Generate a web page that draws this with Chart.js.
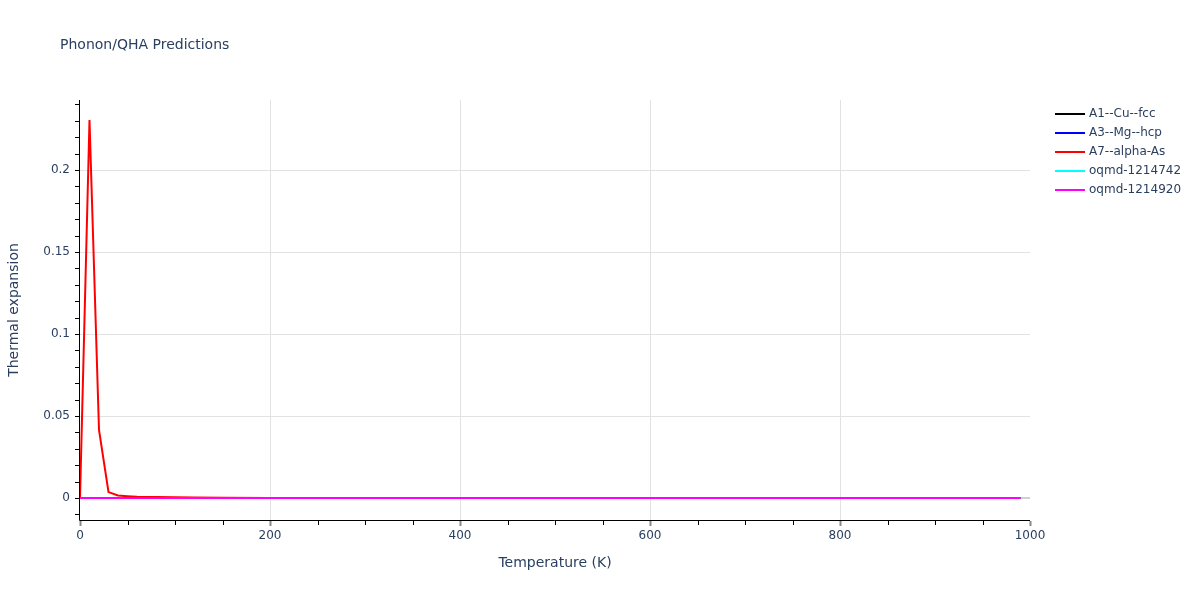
<!DOCTYPE html>
<html lang="en">
<head>
  <meta charset="UTF-8">
  <title>Phonon/QHA Predictions</title>
  <script src="https://cdn.jsdelivr.net/npm/chart.js"></script>
  <style>
    html, body { margin: 0; padding: 0; background: #fff; }
    #wrap { width: 1200px; height: 600px; }
  </style>
</head>
<body>
  <div id="wrap"><canvas id="qha" width="1200" height="600"></canvas></div>

  <script>
    // temperatures (K) shared by all series
    const temps = [0, 10, 20, 30, 40, 50, 60, 80, 100, 120, 150, 200, 300, 400, 500, 600, 700, 800, 900, 990];

    // thermal expansion per structure
    const cuFcc   = [0, 0.000002, 0.000006, 0.000010, 0.000012, 0.000013, 0.000014, 0.000015, 0.000015, 0.000016, 0.000016, 0.000017, 0.000017, 0.000018, 0.000018, 0.000019, 0.000019, 0.000020, 0.000020, 0.000021];
    const mgHcp   = [0, 0.000003, 0.000008, 0.000014, 0.000017, 0.000019, 0.000021, 0.000022, 0.000023, 0.000024, 0.000025, 0.000026, 0.000027, 0.000028, 0.000029, 0.000030, 0.000031, 0.000032, 0.000033, 0.000034];
    const alphaAs = [0, 0.2305, 0.0415, 0.0036, 0.0015, 0.0011, 0.0008, 0.0006, 0.0004, 0.0003, 0.0001, 0.00005, 0.00003, 0.00003, 0.00002, 0.00002, 0.00002, 0.00002, 0.00002, 0.00002];
    const oq742   = [0, 0.000004, 0.000009, 0.000013, 0.000016, 0.000018, 0.000019, 0.000021, 0.000022, 0.000023, 0.000024, 0.000025, 0.000026, 0.000027, 0.000028, 0.000029, 0.000030, 0.000031, 0.000032, 0.000033];
    const oq920   = [0, 0.000003, 0.000007, 0.000011, 0.000014, 0.000016, 0.000017, 0.000019, 0.000020, 0.000021, 0.000022, 0.000023, 0.000024, 0.000025, 0.000026, 0.000027, 0.000028, 0.000029, 0.000030, 0.000031];

    const seriesNames  = ['A1--Cu--fcc', 'A3--Mg--hcp', 'A7--alpha-As', 'oqmd-1214742', 'oqmd-1214920'];
    const seriesValues = [cuFcc, mgHcp, alphaAs, oq742, oq920];
    const seriesColors = ['#000000', '#0000ff', '#ff0000', '#00ffff', '#ff00ff'];

    const yTicks = [0, 0.05, 0.1, 0.15, 0.2];
    const xTicks = [0, 200, 400, 600, 800, 1000];

    const fontFam = '"DejaVu Sans", verdana, arial, sans-serif';
    const ink = '#2a3f5f';

    function pts(vals) {
      return temps.map((t, i) => ({ x: t, y: vals[i] }));
    }

    // title, legend and minor ticks drawn the plotly way
    const decor = {
      id: 'decor',
      afterDraw(chart) {
        const ctx = chart.ctx;
        const xs = chart.scales.x, ys = chart.scales.y;
        const area = chart.chartArea;
        ctx.save();

        // axis lines
        ctx.strokeStyle = '#000';
        ctx.lineWidth = 1;
        ctx.beginPath();
        ctx.moveTo(area.left - 0.5, area.top);
        ctx.lineTo(area.left - 0.5, area.bottom + 0.5);
        ctx.lineTo(area.right, area.bottom + 0.5);
        ctx.stroke();

        // x ticks every 50
        for (let v = 0; v <= 1000; v += 50) {
          const px = Math.round(xs.getPixelForValue(v)) + 0.5;
          const major = v % 200 === 0;
          ctx.strokeStyle = major ? '#888' : '#000';
          ctx.lineWidth = major ? 2 : 1;
          ctx.beginPath();
          ctx.moveTo(px, area.bottom + 1);
          ctx.lineTo(px, area.bottom + (major ? 6 : 5));
          ctx.stroke();
        }
        // y ticks every 0.01
        ctx.strokeStyle = '#000';
        ctx.lineWidth = 1;
        for (let k = -1; k <= 24; k++) {
          const py = Math.round(ys.getPixelForValue(k / 100)) + 0.5;
          ctx.beginPath();
          ctx.moveTo(area.left - 1, py);
          ctx.lineTo(area.left - 5, py);
          ctx.stroke();
        }

        // title
        ctx.fillStyle = ink;
        ctx.font = '14px ' + fontFam;
        ctx.textBaseline = 'middle';
        ctx.textAlign = 'left';
        ctx.fillText('Phonon/QHA Predictions', 60, 45);

        // legend
        ctx.font = '12px ' + fontFam;
        chart.data.datasets.forEach((ds, i) => {
          const y = 114 + i * 19;
          ctx.strokeStyle = ds.borderColor;
          ctx.lineWidth = 2;
          ctx.beginPath();
          ctx.moveTo(1055, y);
          ctx.lineTo(1085, y);
          ctx.stroke();
          ctx.fillStyle = ink;
          ctx.fillText(ds.label, 1089, y);
        });
        ctx.restore();
      }
    };

    new Chart(document.getElementById('qha'), {
      type: 'line',
      data: {
        datasets: seriesNames.map((name, i) => ({
          label: name,
          data: pts(seriesValues[i]),
          borderColor: seriesColors[i],
          backgroundColor: seriesColors[i],
          borderWidth: 2,
          pointRadius: 0,
          tension: 0,
          fill: false,
          order: seriesNames.length - i  // last one on top, like plotly
        }))
      },
      options: {
        responsive: false,
        animation: false,
        devicePixelRatio: 1,
        layout: { padding: { top: 100, right: 170, left: 0, bottom: 0 } },
        plugins: {
          legend: { display: false },
          title: { display: false },
          tooltip: { enabled: false }
        },
        scales: {
          x: {
            type: 'linear',
            min: 0,
            max: 1000,
            afterFit(s) { s.height = 80; },
            afterBuildTicks(s) { s.ticks = xTicks.map(v => ({ value: v })); },
            border: { display: false },
            grid: {
              drawTicks: false,
              color: c => (c.tick && (c.tick.value === 0 || c.tick.value === 1000)) ? 'rgba(0,0,0,0)' : '#e2e2e2',
              lineWidth: 1
            },
            ticks: {
              padding: 9,
              color: ink,
              font: { family: fontFam, size: 12 },
              maxRotation: 0,
              callback: v => String(v)
            },
            title: {
              display: true,
              text: 'Temperature (K)',
              color: ink,
              font: { family: fontFam, size: 14 },
              padding: { top: 28, bottom: 28 }
            }
          },
          y: {
            type: 'linear',
            min: -0.0134,
            max: 0.2427,
            afterFit(s) { s.width = 80; },
            afterBuildTicks(s) { s.ticks = yTicks.map(v => ({ value: v })); },
            border: { display: false },
            grid: {
              drawTicks: false,
              color: c => (c.tick && c.tick.value === 0) ? '#d0d0d0' : '#e2e2e2',
              lineWidth: c => (c.tick && c.tick.value === 0) ? 2 : 1
            },
            ticks: {
              padding: 10,
              color: ink,
              font: { family: fontFam, size: 12 },
              callback: v => String(Math.round(v * 100) / 100)
            },
            title: {
              display: true,
              text: 'Thermal expansion',
              color: ink,
              font: { family: fontFam, size: 14 },
              padding: { top: 6, bottom: 6 }
            }
          }
        }
      },
      plugins: [decor]
    });
  </script>
</body>
</html>
